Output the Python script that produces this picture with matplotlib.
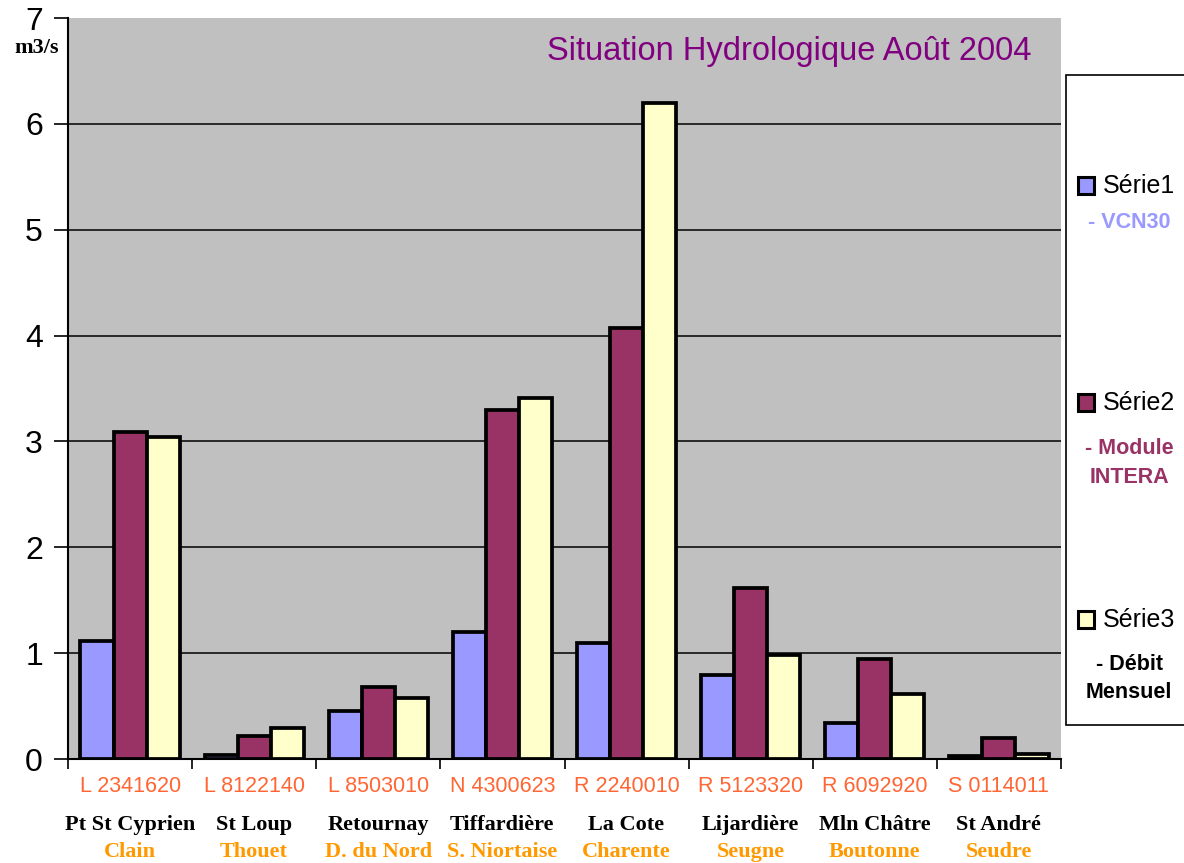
import numpy as np
import matplotlib
matplotlib.use("Agg")
import matplotlib.pyplot as plt
from matplotlib.patches import Rectangle
import matplotlib.transforms as mtransforms

# ============================ data ============================ #
codes = ["L 2341620", "L 8122140", "L 8503010", "N 4300623",
         "R 2240010", "R 5123320", "R 6092920", "S 0114011"]
stations = ["Pt St Cyprien", "St Loup", "Retournay", "Tiffardière",
            "La Cote", "Lijardière", "Mln Châtre", "St André"]
rivers = ["Clain", "Thouet", "D. du Nord", "S. Niortaise",
          "Charente", "Seugne", "Boutonne", "Seudre"]

serie1 = [1.11, 0.04, 0.45, 1.20, 1.10, 0.79, 0.34, 0.03]   # VCN30
serie2 = [3.09, 0.22, 0.68, 3.30, 4.07, 1.62, 0.94, 0.20]   # Module INTERA
serie3 = [3.04, 0.29, 0.58, 3.41, 6.20, 0.98, 0.61, 0.05]   # Debit mensuel

series_names = ["Série1", "Série2", "Série3"]
colors = ["#9999FF", "#993366", "#FFFFCC"]

# ============================ plot ============================ #
fig = plt.figure(figsize=(11.84, 8.63), dpi=100)
ax = fig.add_axes([68/1184, 104/863, 993/1184, 741/863])
ax.set_facecolor("#C0C0C0")

x = np.arange(len(codes))
w = 0.8 / 3
for i, vals in enumerate([serie1, serie2, serie3]):
    ax.bar(x + (i - 1) * w, vals, width=w, color=colors[i],
           edgecolor="black", linewidth=2.7, zorder=3)

ax.set_xlim(-0.5, len(codes) - 0.5)
ax.set_ylim(0, 7)
ax.set_yticks(range(0, 8))
ax.set_yticklabels([str(v) for v in range(0, 8)], fontsize=23, family="Liberation Sans")
for v in range(1, 7):
    ax.axhline(v, color="black", linewidth=1.1, zorder=1)

ax.spines["top"].set_visible(False)
ax.spines["right"].set_visible(False)
ax.spines["left"].set_linewidth(1.5)
ax.spines["bottom"].set_linewidth(1.5)
ax.tick_params(axis="y", direction="out", length=10, width=1.2, pad=8)

# category boundaries as ticks
ax.set_xticks(np.arange(-0.5, len(codes), 1.0))
ax.set_xticklabels([])
ax.tick_params(axis="x", direction="out", length=7, width=1.2)

trans = mtransforms.blended_transform_factory(ax.transData, fig.transFigure)
for i in range(len(codes)):
    ax.text(i, 1 - 786/863, codes[i], transform=trans, ha="center", va="center",
            fontsize=15.5, color="#FF6633", family="Liberation Sans")
    ax.text(i, 1 - 825/863, stations[i], transform=trans, ha="center", va="center",
            fontsize=16, fontweight="bold", color="black", family="Liberation Serif")
    ax.text(i, 1 - 852/863, rivers[i], transform=trans, ha="center", va="center",
            fontsize=16, fontweight="bold", color="#FF9900", family="Liberation Serif")

ax.text(0.97, 0.955, "Situation Hydrologique Août 2004", transform=ax.transAxes,
        ha="right", va="center", fontsize=23.5, color="#800080", family="Liberation Sans")

fig.text(37/1184, 1 - 48/863, "m3/s", ha="center", va="center", fontsize=16,
         fontweight="bold", family="Liberation Serif")

# ============================ legend ============================ #
fig.patches.append(Rectangle((1066/1184, 1 - 725/863), 0.2, 650/863,
                             transform=fig.transFigure, facecolor="white",
                             edgecolor="black", linewidth=1.2))
leg_y = [186, 403, 620]
sub_off = [36, 45, 44]
sub_texts = [["- VCN30"], ["- Module", "INTERA"], ["- Débit", "Mensuel"]]
sub_colors = ["#9999FF", "#993366", "black"]
for k in range(3):
    yy = 1 - leg_y[k]/863
    fig.patches.append(Rectangle((1078/1184, yy - 8/863), 16/1184, 17/863,
                                 transform=fig.transFigure, facecolor=colors[k],
                                 edgecolor="black", linewidth=2.2))
    fig.text(1103/1184, yy, series_names[k], ha="left", va="center",
             fontsize=18, family="Liberation Sans")
    for j, s in enumerate(sub_texts[k]):
        fig.text(1129/1184, yy - (sub_off[k] + 29*j)/863, s, ha="center", va="center",
                 fontsize=15.5, fontweight="bold", color=sub_colors[k],
                 family="Liberation Sans")

fig.savefig("out.png", dpi=100)
